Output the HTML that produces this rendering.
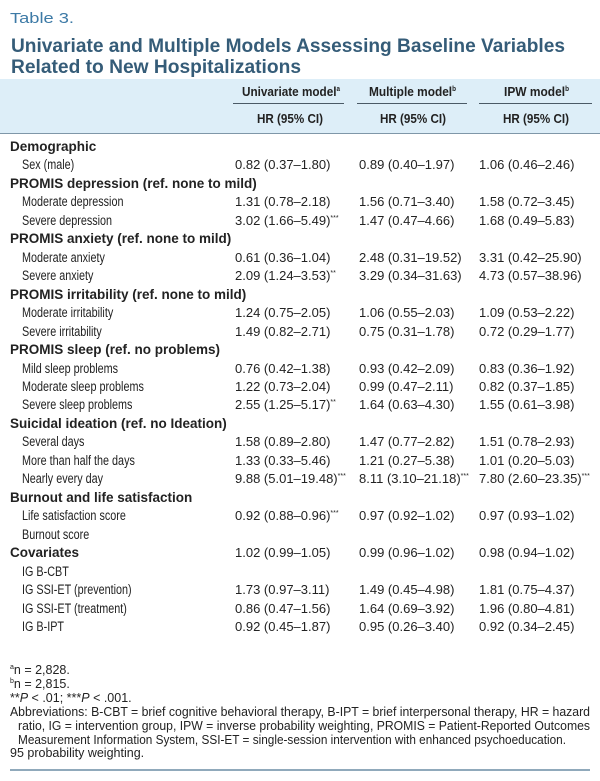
<!DOCTYPE html>
<html><head><meta charset="utf-8">
<style>
html,body{margin:0;padding:0;background:#fff;}
body{width:600px;height:781px;position:relative;overflow:hidden;font-family:"Liberation Sans",sans-serif;color:#222;}
.abs{position:absolute;white-space:nowrap;}
.fit{display:inline-block;transform-origin:0 50%;}
#band{left:0;top:79px;width:600px;height:54px;background:#ddeef8;border-bottom:1px solid #7f97a8;}
.hdr{font-weight:bold;font-size:13px;text-align:center;}
.uline{height:1px;background:#4a5a66;}
.row{height:18px;line-height:18px;font-size:13px;}
.lab{transform-origin:0 50%;transform:scaleX(0.8);font-size:13.5px;}
.cat{font-weight:bold;font-size:13.5px;transform:scaleX(1.0);}
.fn{font-size:12.5px;line-height:13px;}
sup{font-size:7px;vertical-align:baseline;line-height:0;position:relative;top:-5px;}
</style></head>
<body>
<div class="abs" style="left:10px;top:10px;font-size:15px;color:#3d7aa6;"><span class="fit" data-w="64">Table 3.</span></div>
<div class="abs" style="left:11px;top:36px;font-size:19px;font-weight:bold;color:#355c78;line-height:21px;">
<span class="fit" data-w="554">Univariate and Multiple Models Assessing Baseline Variables</span><br>
<span class="fit" data-w="290">Related to New Hospitalizations</span></div>
<div id="band" class="abs"></div>

<div class="abs hdr" style="left:242px;top:84px;"><span class="fit" data-w="98">Univariate model<sup>a</sup></span></div>
<div class="abs hdr" style="left:369px;top:84px;"><span class="fit" data-w="87">Multiple model<sup>b</sup></span></div>
<div class="abs hdr" style="left:504px;top:84px;"><span class="fit" data-w="65">IPW model<sup>b</sup></span></div>
<div class="abs uline" style="left:233px;width:111px;top:103px;"></div>
<div class="abs uline" style="left:357px;width:110px;top:103px;"></div>
<div class="abs uline" style="left:479px;width:113px;top:103px;"></div>
<div class="abs hdr" style="left:257px;top:111px;"><span class="fit" data-w="66">HR (95% CI)</span></div>
<div class="abs hdr" style="left:380px;top:111px;"><span class="fit" data-w="66">HR (95% CI)</span></div>
<div class="abs hdr" style="left:503px;top:111px;"><span class="fit" data-w="66">HR (95% CI)</span></div>

<div id="rows"></div>

<div class="abs fn" style="left:10px;top:664px;"><sup>a</sup>n = 2,828.</div>
<div class="abs fn" style="left:10px;top:678px;"><sup>b</sup>n = 2,815.</div>
<div class="abs fn" style="left:10px;top:692px;">**<i>P</i> &lt; .01; ***<i>P</i> &lt; .001.</div>
<div class="abs fn" style="left:10px;top:706px;">
<span class="fit" data-w="580">Abbreviations: B-CBT = brief cognitive behavioral therapy, B-IPT = brief interpersonal therapy, HR = hazard</span></div>
<div class="abs fn" style="left:18px;top:720px;">
<span class="fit" data-w="572">ratio, IG = intervention group, IPW = inverse probability weighting, PROMIS = Patient-Reported Outcomes</span></div>
<div class="abs fn" style="left:18px;top:734px;">
<span class="fit" data-w="548">Measurement Information System, SSI-ET = single-session intervention with enhanced psychoeducation.</span></div>
<div class="abs fn" style="left:10px;top:747px;">95 probability weighting.</div>
<div class="abs" style="left:10px;top:769px;width:580px;height:2px;background:#90a9bb;"></div>

<script>
const labels = ["Demographic","Sex (male)","PROMIS depression (ref. none to mild)","Moderate depression","Severe depression","PROMIS anxiety (ref. none to mild)","Moderate anxiety","Severe anxiety","PROMIS irritability (ref. none to mild)","Moderate irritability","Severe irritability","PROMIS sleep (ref. no problems)","Mild sleep problems","Moderate sleep problems","Severe sleep problems","Suicidal ideation (ref. no Ideation)","Several days","More than half the days","Nearly every day","Burnout and life satisfaction","Life satisfaction score","Burnout score","Covariates","IG B-CBT","IG SSI-ET (prevention)","IG SSI-ET (treatment)","IG B-IPT"];
const isCategory = [1,0,1,0,0,1,0,0,1,0,0,1,0,0,0,1,0,0,0,1,0,0,1,0,0,0,0];
const univariate = ["","0.82 (0.37–1.80)","","1.31 (0.78–2.18)","3.02 (1.66–5.49)***","","0.61 (0.36–1.04)","2.09 (1.24–3.53)**","","1.24 (0.75–2.05)","1.49 (0.82–2.71)","","0.76 (0.42–1.38)","1.22 (0.73–2.04)","2.55 (1.25–5.17)**","","1.58 (0.89–2.80)","1.33 (0.33–5.46)","9.88 (5.01–19.48)***","","0.92 (0.88–0.96)***","","1.02 (0.99–1.05)","","1.73 (0.97–3.11)","0.86 (0.47–1.56)","0.92 (0.45–1.87)"];
const multiple = ["","0.89 (0.40–1.97)","","1.56 (0.71–3.40)","1.47 (0.47–4.66)","","2.48 (0.31–19.52)","3.29 (0.34–31.63)","","1.06 (0.55–2.03)","0.75 (0.31–1.78)","","0.93 (0.42–2.09)","0.99 (0.47–2.11)","1.64 (0.63–4.30)","","1.47 (0.77–2.82)","1.21 (0.27–5.38)","8.11 (3.10–21.18)***","","0.97 (0.92–1.02)","","0.99 (0.96–1.02)","","1.49 (0.45–4.98)","1.64 (0.69–3.92)","0.95 (0.26–3.40)"];
const ipw = ["","1.06 (0.46–2.46)","","1.58 (0.72–3.45)","1.68 (0.49–5.83)","","3.31 (0.42–25.90)","4.73 (0.57–38.96)","","1.09 (0.53–2.22)","0.72 (0.29–1.77)","","0.83 (0.36–1.92)","0.82 (0.37–1.85)","1.55 (0.61–3.98)","","1.51 (0.78–2.93)","1.01 (0.20–5.03)","7.80 (2.60–23.35)***","","0.97 (0.93–1.02)","","0.98 (0.94–1.02)","","1.81 (0.75–4.37)","1.96 (0.80–4.81)","0.92 (0.34–2.45)"];

function fmt(s){ return s.replace(/(\*+)$/,'<sup>$1</sup>'); }
const host = document.getElementById('rows');
const pitch = 18.46;
labels.forEach((lab,i)=>{
  const top = 138 + i*pitch;
  const l = document.createElement('div');
  l.className = 'abs row lab' + (isCategory[i] ? ' cat' : '');
  l.style.left = (isCategory[i] ? 10 : 22) + 'px';
  l.style.top = top + 'px';
  l.textContent = lab;
  
  
  host.appendChild(l);
  [[univariate,235],[multiple,359],[ipw,479]].forEach(([arr,x])=>{
    if(!arr[i]) return;
    const c = document.createElement('div');
    c.className = 'abs row';
    c.style.left = x + 'px';
    c.style.top = top + 'px';
    c.innerHTML = fmt(arr[i]);
    
    
    host.appendChild(c);
  });
});
document.querySelectorAll('.fit').forEach(el=>{
  const w = parseFloat(el.getAttribute('data-w'));
  const cur = el.getBoundingClientRect().width;
  if(cur>0) el.style.transform = 'scaleX(' + (w/cur) + ')';
});
</script>
</body></html>
